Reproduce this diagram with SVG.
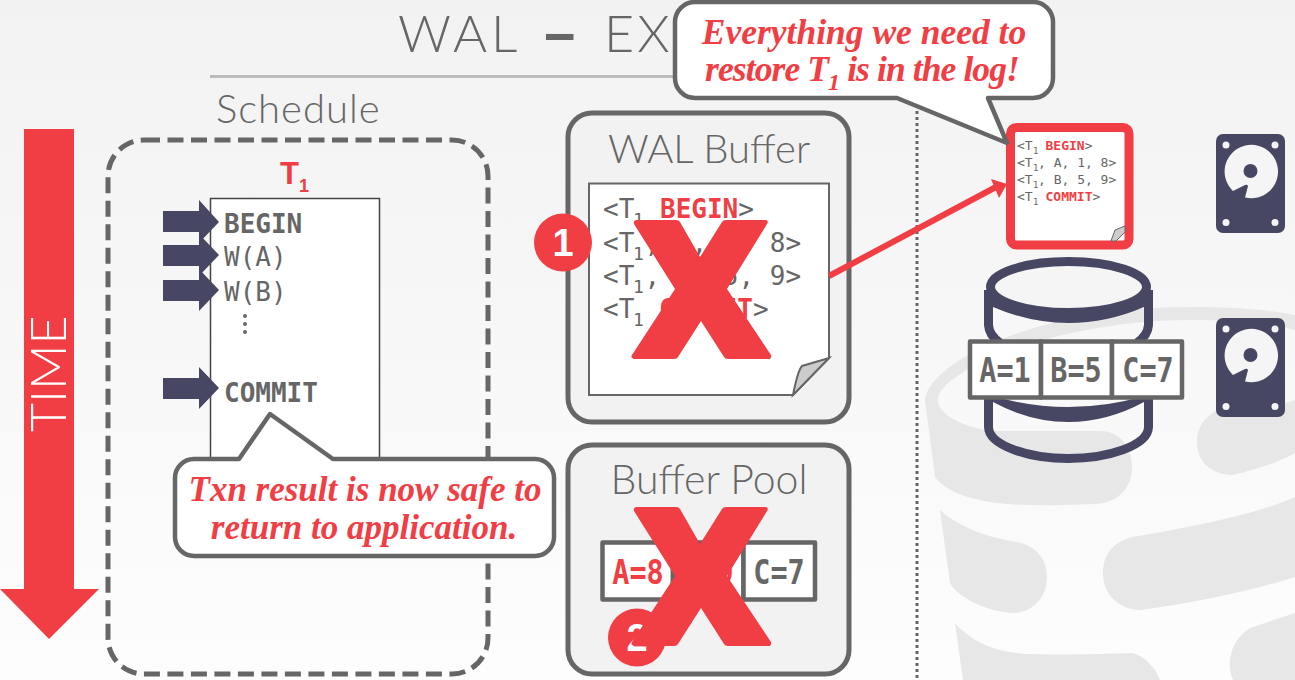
<svg xmlns="http://www.w3.org/2000/svg" width="1295" height="680" viewBox="0 0 1295 680">
<defs>
<linearGradient id="bg" x1="0" y1="0" x2="0" y2="1"><stop offset="0" stop-color="#f2f2f2"/><stop offset="1" stop-color="#fdfdfd"/></linearGradient>
<g id="disk">
<rect x="1216" y="134" width="69" height="99" rx="7" fill="#474764"/>
<g fill="#f5f5f5"><circle cx="1226" cy="145" r="3.500"/><circle cx="1275" cy="145" r="3.500"/><circle cx="1226" cy="222.500" r="3.500"/><circle cx="1275" cy="222.500" r="3.500"/>
<path d="M1233 191L1245 185Q1249 184 1247.500 188L1245 197.500A26.700 26.700 0 1 0 1233 191Z"/></g>
<circle cx="1250.500" cy="171" r="7" fill="#474764"/></g>
<path id="x" d="M636 0H676Q679 0 680 2L700 37 722 2Q723 0 726 0H766Q769 1 767 4L727 69 771 135Q772 139 768 139H728Q725 139 724 137L701 101 678 137Q677 139 674 139H634Q630 138 632 135L675 69 634 4Q633 1 636 0Z" fill="#f03e44"/>
</defs>
<style>
.sans{font-family:Lato,"Open Sans",sans-serif;font-weight:300;fill:#666}
.mono{font-family:"DejaVu Sans Mono","Liberation Mono",monospace;fill:#666}
.b{font-weight:700}
.red{fill:#f03e44}
.say{font-family:"Liberation Serif",serif;font-style:italic;font-weight:700;fill:#f03e44;text-anchor:middle}
.box{fill:#f2f2f2;stroke:#666;stroke-width:5}
.cell{fill:#fff;stroke:#666;stroke-width:4.500;stroke-linejoin:round}
.bub{fill:#fff;stroke:#666;stroke-width:4.500;stroke-linejoin:round}
.cellt{font-family:"DejaVu Sans Mono","Liberation Mono",monospace;font-weight:700;font-size:28.500px;text-anchor:middle;fill:#666}
.navy{fill:#474764}
</style>
<rect width="1295" height="680" fill="url(#bg)"/>
<g id="watermark" fill="#e7e7e7">
<path d="M925 400C928 365 1030 307 1190 307C1240 307 1270 310 1295 315V330C1270 323 1230 320 1190 320C1060 320 938 370 938 400C938 418 975 431 1000 431H1100C1120 431 1132 447 1132 467C1132 488 1118 503 1095 504C1040 506 960 510 935 477Z"/>
<path d="M1216 411C1200 420 1197 432 1197 442C1197 465 1215 475 1233 475C1255 470 1280 462 1295 453V400C1270 410 1240 400 1216 411Z"/>
<path d="M940 510C960 528 990 538 1017 542C1037 546 1047 560 1047 577C1047 600 1030 613 1013 613C990 612 960 600 950 583Z"/>
<path d="M1133 537C1190 527 1255 515 1295 497V577C1255 590 1190 604 1140 610C1120 610 1103 595 1103 573C1103 553 1115 541 1133 537Z"/>
<path d="M955 623C975 645 1000 653 1030 654C1070 655 1100 654 1133 653C1145 657 1155 667 1160 680H963Z"/>
<path d="M1295 613V680H1233C1226 665 1230 640 1250 628Z"/>
</g>
<g id="title">
<text x="398" y="52" class="sans" font-size="52" letter-spacing="4">WAL</text>
<text x="540" y="58" class="sans" font-size="68" style="font-weight:700">–</text>
<text x="604" y="52" class="sans" font-size="52" letter-spacing="3">EX</text>
<rect x="210" y="75" width="465" height="3" fill="#bbb"/>
</g>
<line id="divider" x1="917" y1="111" x2="917" y2="680" stroke="#666" stroke-width="3" stroke-dasharray="3 3"/>
<g id="time"><path d="M24 129H74V589H99L49 639 0 589H24Z" fill="#f03e44"/><text transform="translate(66 432) rotate(-90)" class="sans" font-size="50" style="fill:#fff">TIME</text></g>
<g id="schedule">
<text x="216" y="123" class="sans" font-size="40" letter-spacing="1">Schedule</text>
<rect x="108" y="140" width="380" height="534" rx="36" fill="none" stroke="#666" stroke-width="5" stroke-dasharray="16 7.500"/>
<text x="280" y="184" font-family="Liberation Sans,sans-serif" font-weight="700" font-size="31" class="red">T<tspan font-size="18" dy="8">1</tspan></text>
<rect x="210.500" y="198.500" width="169" height="300" fill="#fff" stroke="#444" stroke-width="1.500"/>
<text x="224" y="233" class="mono b" font-size="26">BEGIN</text>
<text x="224" y="266" class="mono" font-size="26">W(A)</text>
<text x="224" y="301" class="mono" font-size="26">W(B)</text>
<g fill="#666"><circle cx="245" cy="316" r="2"/><circle cx="245" cy="324" r="2"/><circle cx="245" cy="332" r="2"/></g>
<text x="224" y="402" class="mono b" font-size="26">COMMIT</text>
<g class="navy"><path d="M163 211H199V200L219 222 199 243V232H163Z"/><path d="M163 245H199V234L219 255 199 276V266H163Z"/><path d="M163 280H199V269L219 290 199 311V301H163Z"/><path d="M163 378H199V367L219 388 199 409V399H163Z"/></g>
</g>
<g id="callout-txn">
<path class="bub" d="M194 459H239L270 414 333 459H535a19 19 0 0 1 19 19V537a19 19 0 0 1-19 19H194a19 19 0 0 1-19-19V478a19 19 0 0 1 19-19Z"/>
<text x="365" y="501" class="say" font-size="35">Txn result is now safe to</text>
<text x="364" y="539" class="say" font-size="35">return to application.</text>
</g>
<g id="wal-buffer">
<rect class="box" x="568" y="113" width="281" height="309" rx="24"/>
<text x="709" y="163" class="sans" font-size="40" text-anchor="middle">WAL Buffer</text>
<path d="M589 183.500H829V358L793 395H589Z" fill="#fff" stroke="#666" stroke-width="2"/>
<path d="M793 395C796 380 799 369 802 366L829 358Z" fill="#ccc" stroke="#666" stroke-width="2"/>
<g class="mono" font-size="26">
<text y="218"><tspan x="603">&lt;T</tspan><tspan x="633" dy="8" font-size="18">1</tspan><tspan x="660" dy="-8" class="b red">BEGIN</tspan><tspan>&gt;</tspan></text>
<text y="252"><tspan x="603">&lt;T</tspan><tspan x="633" dy="8" font-size="18">1</tspan><tspan x="644.500" dy="-8">, A, 1, 8&gt;</tspan></text>
<text y="285"><tspan x="603">&lt;T</tspan><tspan x="633" dy="8" font-size="18">1</tspan><tspan x="644.500" dy="-8">, B, 5, 9&gt;</tspan></text>
<text y="318"><tspan x="603">&lt;T</tspan><tspan x="633" dy="8" font-size="18">1</tspan><tspan x="659" dy="-8" class="b red">COMMIT</tspan><tspan>&gt;</tspan></text>
</g>
<use href="#x" y="220"/>
<circle cx="563" cy="242.500" r="29" fill="#f03e44"/>
<text x="563" y="256" text-anchor="middle" font-family="Liberation Sans,sans-serif" font-weight="700" font-size="38" fill="#fff">1</text>
</g>
<g id="buffer-pool">
<rect class="box" x="568" y="445" width="281" height="229" rx="24"/>
<text x="709" y="494" class="sans" font-size="41" text-anchor="middle">Buffer Pool</text>
<rect class="cell" x="602.500" y="542.500" width="70.500" height="57"/><rect class="cell" x="673" y="542.500" width="70.500" height="57"/><rect class="cell" x="743.500" y="542.500" width="71.500" height="57"/>
<text transform="translate(638 584) scale(1 1.200)" class="cellt" style="fill:#f03e44">A=8</text>
<text transform="translate(708 584) scale(1 1.200)" class="cellt" style="fill:#f03e44">B=9</text>
<text transform="translate(779 584) scale(1 1.200)" class="cellt">C=7</text>
<circle cx="637" cy="637.500" r="29" fill="#f03e44"/>
<text x="637" y="651" text-anchor="middle" font-family="Liberation Sans,sans-serif" font-weight="700" font-size="38" fill="#fff">2</text>
<use href="#x" y="507"/>
</g>
<g id="connectors"><line x1="829" y1="276" x2="996" y2="187" stroke="#f03e44" stroke-width="6"/><path d="M1007 184 991 179 999 198Z" fill="#f03e44"/></g>
<g id="log-disk">
<rect x="1010.500" y="127.500" width="118.500" height="117.500" rx="6" fill="#fff" stroke="#f03e44" stroke-width="9"/>
<path d="M1111 241L1115 230 1125 226V232L1116 241Z" fill="#ccc" stroke="#666" stroke-width="1"/>
<g class="mono" font-size="13">
<text y="150"><tspan x="1017">&lt;T</tspan><tspan x="1033" dy="4" font-size="9">1</tspan><tspan x="1045.500" dy="-4" class="b red">BEGIN</tspan><tspan>&gt;</tspan></text>
<text y="167"><tspan x="1017">&lt;T</tspan><tspan x="1033" dy="4" font-size="9">1</tspan><tspan x="1038" dy="-4">, A, 1, 8&gt;</tspan></text>
<text y="184"><tspan x="1017">&lt;T</tspan><tspan x="1033" dy="4" font-size="9">1</tspan><tspan x="1038" dy="-4">, B, 5, 9&gt;</tspan></text>
<text y="201"><tspan x="1017">&lt;T</tspan><tspan x="1033" dy="4" font-size="9">1</tspan><tspan x="1045.500" dy="-4" class="b red">COMMIT</tspan><tspan>&gt;</tspan></text>
</g>
</g>
<g id="callout-log">
<path class="bub" d="M695 2H1033a20 20 0 0 1 20 20V78a20 20 0 0 1-20 20H988L1007 143 897 98H695a20 20 0 0 1-20-20V22a20 20 0 0 1 20-20Z"/>
<text x="864" y="44" class="say" font-size="35.500">Everything we need to</text>
<text x="862" y="81" class="say" font-size="35.500" letter-spacing="-.9">restore T<tspan font-size="24" dy="9">1</tspan><tspan dy="-9"> is in the log!</tspan></text>
</g>
<g id="database">
<g fill="none" stroke="#474764" stroke-width="9">
<path d="M988.500 290V325Q989 335 1000 343M1148.500 290V325Q1148 335 1137 343"/>
<path d="M988.500 395V427C989 446 1030 458.500 1068.500 458.500S1148 446 1148.500 427V395"/>
</g>
<path class="navy" d="M993 307Q1030 323 1068.500 323T1144 307V290H993Z"/>
<path class="navy" d="M993 396Q1030 407 1068.500 407T1144 396V402Q1107 422 1068.500 422 1030 422 993 402Z"/>
<ellipse cx="1068.500" cy="287" rx="78" ry="25.500" fill="#f5f5f5" stroke="#474764" stroke-width="9"/>
<rect class="cell" x="970" y="341.500" width="71" height="56"/><rect class="cell" x="1041" y="341.500" width="71" height="56"/><rect class="cell" x="1112" y="341.500" width="70" height="56"/>
<text transform="translate(1005 382) scale(1 1.200)" class="cellt">A=1</text><text transform="translate(1076 382) scale(1 1.200)" class="cellt">B=5</text><text transform="translate(1148 382) scale(1 1.200)" class="cellt">C=7</text>
</g>
<g id="disk-1"><use href="#disk"/></g>
<g id="disk-2"><use href="#disk" y="184"/></g>
</svg>
